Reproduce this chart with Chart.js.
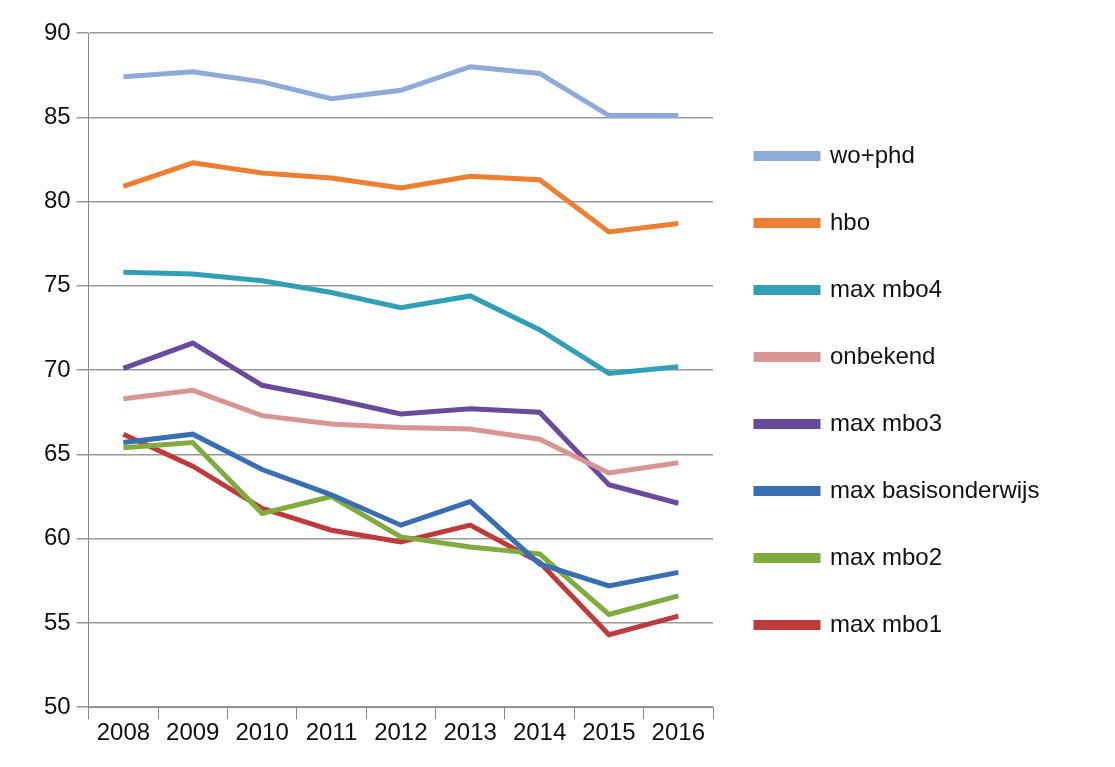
<!DOCTYPE html>
<html><head><meta charset="utf-8">
<script src="https://cdn.jsdelivr.net/npm/chart.js@4"></script>
<style>html,body{margin:0;padding:0;background:#fff}#w{width:1115px;height:767px}</style>
</head><body><div id="w"><canvas id="c"></canvas></div>
<script>
const years=['2008','2009','2010','2011','2012','2013','2014','2015','2016'];
const names=['wo+phd','hbo','max mbo4','onbekend','max mbo3','max basisonderwijs','max mbo2','max mbo1'];
const woPhd=[87.4,87.7,87.1,86.1,86.6,88.0,87.6,85.1,85.1];
const hbo=[80.9,82.3,81.7,81.4,80.8,81.5,81.3,78.2,78.7];
const mbo4=[75.8,75.7,75.3,74.6,73.7,74.4,72.4,69.8,70.2];
const onbekend=[68.3,68.8,67.3,66.8,66.6,66.5,65.9,63.9,64.5];
const mbo3=[70.1,71.6,69.1,68.3,67.4,67.7,67.5,63.2,62.1];
const basis=[65.7,66.2,64.1,62.6,60.8,62.2,58.5,57.2,58.0];
const mbo2=[65.4,65.7,61.5,62.5,60.1,59.5,59.1,55.5,56.6];
const mbo1=[66.2,64.3,61.8,60.5,59.8,60.8,58.6,54.3,55.4];
const series=[woPhd,hbo,mbo4,onbekend,mbo3,basis,mbo2,mbo1];
const colors=['#8eaad9','#ec7f31','#31a0b6','#d99494','#6c4a9b','#386fb2','#80ab3e','#bf3a3a'];
const legendWidth={id:'legendWidth',afterInit(chart){const lg=chart.legend;const orig=lg.fit;lg.fit=function(){orig.call(this);this.width=402;};}};
new Chart(document.getElementById('c'),{type:'line',
data:{labels:years,datasets:series.map((d,i)=>({label:names[i],data:d,borderColor:colors[i],backgroundColor:colors[i],borderWidth:5,pointRadius:0,tension:0}))},
options:{responsive:true,maintainAspectRatio:false,animation:false,
layout:{padding:{top:33,right:0,bottom:19,left:38}},
plugins:{legend:{position:'right',align:'center',labels:{boxWidth:62,boxHeight:5,padding:43,font:{family:'Liberation Sans',size:24},color:'#111'}},tooltip:{enabled:false}},
scales:{
x:{offset:true,grid:{drawOnChartArea:false,offset:true,tickLength:12,color:'#888'},border:{color:'#888'},ticks:{font:{family:'Liberation Sans',size:24},color:'#111',maxRotation:0,autoSkip:false,padding:0}},
y:{min:50,max:90,grid:{color:'#999',tickLength:12,lineWidth:1.5},border:{color:'#888'},ticks:{stepSize:5,font:{family:'Liberation Sans',size:24},color:'#111',padding:6}}}},
plugins:[legendWidth]});
</script></body></html>
